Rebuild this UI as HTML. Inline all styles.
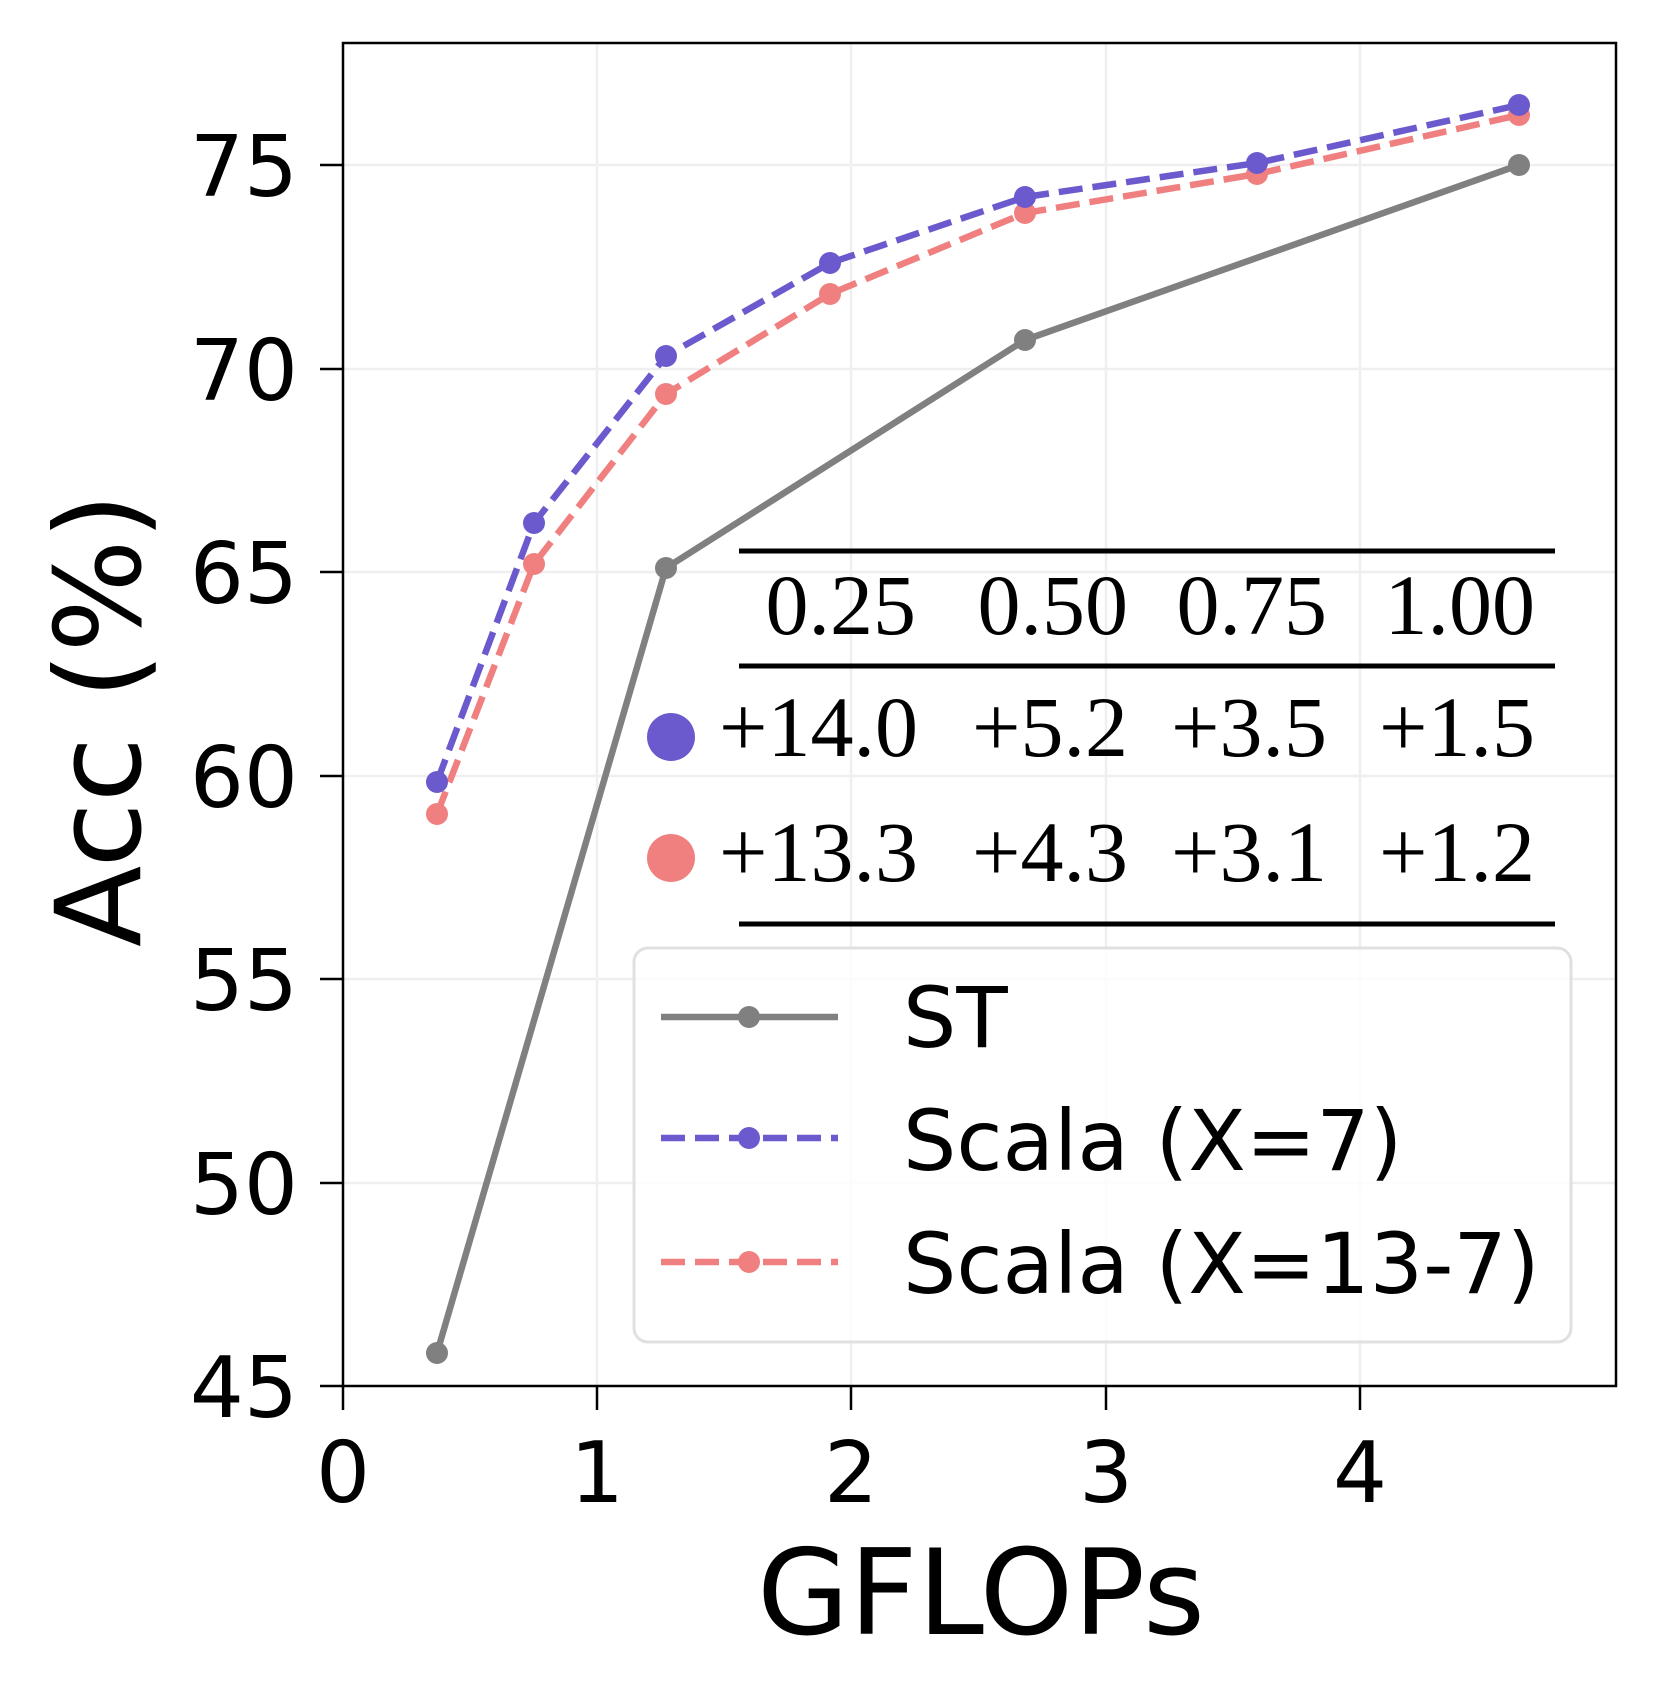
<!DOCTYPE html>
<html><head><meta charset="utf-8"><style>body{margin:0;background:#fff}svg{display:block}</style></head><body>
<svg width="1659" height="1703" viewBox="0 0 1659 1703" xmlns="http://www.w3.org/2000/svg" font-family="'DejaVu Sans', sans-serif">
<rect width="1659" height="1703" fill="#fff"/>
<g stroke="#efefef" stroke-width="2.5">
<line x1="597" y1="43" x2="597" y2="1386"/><line x1="851" y1="43" x2="851" y2="1386"/><line x1="1106" y1="43" x2="1106" y2="1386"/><line x1="1360" y1="43" x2="1360" y2="1386"/>
<line x1="343" y1="165" x2="1616" y2="165"/><line x1="343" y1="369" x2="1616" y2="369"/><line x1="343" y1="572" x2="1616" y2="572"/><line x1="343" y1="776" x2="1616" y2="776"/><line x1="343" y1="979" x2="1616" y2="979"/><line x1="343" y1="1183" x2="1616" y2="1183"/>
</g>
<polyline fill="none" stroke="#808080" stroke-width="6.5" points="437,1353 666,568 1025,340 1519,165"/>
<g fill="#808080"><circle cx="437" cy="1353" r="11"/><circle cx="666" cy="568" r="11"/><circle cx="1025" cy="340" r="11"/><circle cx="1519" cy="165" r="11"/></g>
<polyline fill="none" stroke="#f08080" stroke-width="6.5" stroke-dasharray="24,10" points="437,814 534,564 666,394 830,294 1025,213 1257,174 1519,115"/>
<g fill="#f08080"><circle cx="437" cy="814" r="11"/><circle cx="534" cy="564" r="11"/><circle cx="666" cy="394" r="11"/><circle cx="830" cy="294" r="11"/><circle cx="1025" cy="213" r="11"/><circle cx="1257" cy="174" r="11"/><circle cx="1519" cy="115" r="11"/></g>
<polyline fill="none" stroke="#6a5acd" stroke-width="6.5" stroke-dasharray="24,10" points="437,782 534,523 666,356 830,263 1025,197 1257,163 1519,105"/>
<g fill="#6a5acd"><circle cx="437" cy="782" r="11"/><circle cx="534" cy="523" r="11"/><circle cx="666" cy="356" r="11"/><circle cx="830" cy="263" r="11"/><circle cx="1025" cy="197" r="11"/><circle cx="1257" cy="163" r="11"/><circle cx="1519" cy="105" r="11"/></g>
<rect x="343" y="43" width="1273" height="1343" fill="none" stroke="#000" stroke-width="2.5"/>
<g stroke="#000" stroke-width="2.5">
<line x1="343" y1="1386" x2="343" y2="1410"/><line x1="597" y1="1386" x2="597" y2="1410"/><line x1="851" y1="1386" x2="851" y2="1410"/><line x1="1106" y1="1386" x2="1106" y2="1410"/><line x1="1360" y1="1386" x2="1360" y2="1410"/>
<line x1="320" y1="165" x2="343" y2="165"/><line x1="320" y1="369" x2="343" y2="369"/><line x1="320" y1="572" x2="343" y2="572"/><line x1="320" y1="776" x2="343" y2="776"/><line x1="320" y1="979" x2="343" y2="979"/><line x1="320" y1="1183" x2="343" y2="1183"/><line x1="320" y1="1386" x2="343" y2="1386"/>
</g>
<g font-size="85" text-anchor="middle" fill="#000">
<text x="343" y="1502">0</text><text x="597" y="1502">1</text><text x="851" y="1502">2</text><text x="1106" y="1502">3</text><text x="1360" y="1502">4</text>
</g>
<g font-size="85" text-anchor="end" fill="#000">
<text x="298" y="196">75</text><text x="298" y="400">70</text><text x="298" y="603">65</text><text x="298" y="807">60</text><text x="298" y="1010">55</text><text x="298" y="1214">50</text><text x="298" y="1417">45</text>
</g>
<text x="981" y="1634" font-size="119" text-anchor="middle">GFLOPs</text>
<text transform="translate(140,720) rotate(-90)" font-size="119" text-anchor="middle">Acc (%)</text>
<g stroke="#000" stroke-width="5"><line x1="739" y1="551" x2="1555" y2="551"/><line x1="739" y1="666" x2="1555" y2="666"/><line x1="739" y1="924" x2="1555" y2="924"/></g>
<g font-family="'Liberation Serif', serif" font-size="86" text-anchor="end">
<text x="916" y="634">0.25</text><text x="1128" y="634">0.50</text><text x="1327" y="634">0.75</text><text x="1535" y="634">1.00</text>
<text x="918" y="756">+14.0</text><text x="1128" y="756">+5.2</text><text x="1327" y="756">+3.5</text><text x="1535" y="756">+1.5</text>
<text x="918" y="881">+13.3</text><text x="1128" y="881">+4.3</text><text x="1327" y="881">+3.1</text><text x="1535" y="881">+1.2</text>
</g>
<circle cx="671" cy="737" r="24" fill="#6a5acd"/><circle cx="671" cy="858" r="24" fill="#f08080"/>
<rect x="634" y="948" width="937" height="394" rx="14" fill="#fff" fill-opacity="0.8" stroke="#e0e0e0" stroke-width="3"/>
<line x1="661" y1="1017" x2="838" y2="1017" stroke="#808080" stroke-width="6.5"/><circle cx="749" cy="1017" r="11" fill="#808080"/>
<line x1="661" y1="1138" x2="838" y2="1138" stroke="#6a5acd" stroke-width="6.5" stroke-dasharray="24,10"/><circle cx="749" cy="1138" r="11" fill="#6a5acd"/>
<line x1="661" y1="1262" x2="838" y2="1262" stroke="#f08080" stroke-width="6.5" stroke-dasharray="24,10"/><circle cx="749" cy="1262" r="11" fill="#f08080"/>
<g font-size="84"><text x="903" y="1047">ST</text><text x="903" y="1170">Scala (X=7)</text><text x="903" y="1293">Scala (X=13-7)</text></g>
</svg>
</body></html>
